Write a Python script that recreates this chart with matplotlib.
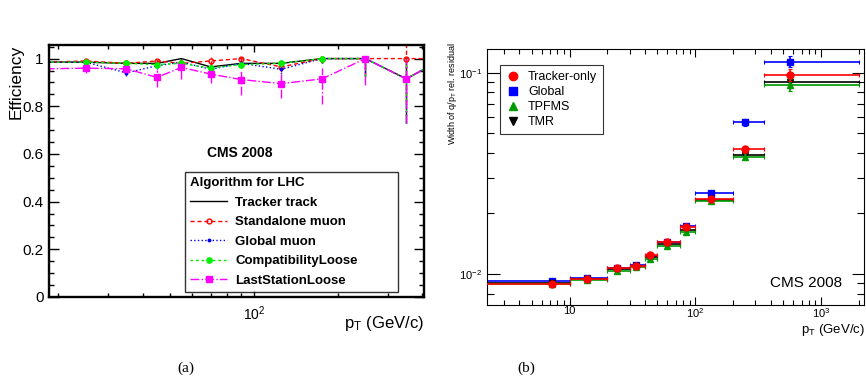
import numpy as np
import matplotlib
matplotlib.use("Agg")
import matplotlib.pyplot as plt
from matplotlib.ticker import FixedLocator, NullFormatter, FixedFormatter
from matplotlib.lines import Line2D

plt.rcParams['font.family'] = ['Liberation Sans', 'DejaVu Sans']
plt.rcParams['mathtext.fontset'] = 'custom'
plt.rcParams['mathtext.rm'] = 'Liberation Sans'
plt.rcParams['mathtext.it'] = 'Liberation Sans:italic'
plt.rcParams['mathtext.bf'] = 'Liberation Sans:bold'

# ---- (a) efficiency vs pT ----
pt_a = [18, 25, 35, 45, 55, 70, 90, 125, 175, 250, 350, 475]
eff_tracker = [0.985, 0.985, 0.98, 0.98, 1.0, 0.965, 0.98, 0.98, 1.0, 1.0, 0.915, 1.0]
eff_standalone = [0.985, 0.99, 0.98, 0.99, 0.98, 0.99, 1.0, 0.965, 1.0, 1.0, 1.0, 1.0]
eff_global = [0.985, 0.985, 0.94, 0.97, 0.985, 0.955, 0.98, 0.955, 1.0, 1.0, 0.915, 1.0]
eff_compat = [0.985, 0.985, 0.98, 0.975, 0.98, 0.96, 0.975, 0.98, 1.0, 1.0, 0.915, 1.0]
eff_last = [0.957, 0.96, 0.957, 0.921, 0.963, 0.935, 0.912, 0.895, 0.915, 1.0, 0.915, 1.0]

err_lo = [0.01, 0.01, 0.012, 0.012, 0.012, 0.015, 0.015, 0.02, 0.02, 0.075, 0.185, 0.0]
err_hi = [0.01, 0.01, 0.012, 0.012, 0.0, 0.015, 0.015, 0.015, 0.0, 0.0, 0.085, 0.0]
last_lo = [0.02, 0.02, 0.02, 0.04, 0.048, 0.037, 0.063, 0.06, 0.104, 0.11, 0.185, 0.0]
last_hi = [0.02, 0.015, 0.02, 0.033, 0.012, 0.026, 0.042, 0.045, 0.046, 0.0, 0.085, 0.0]

# ---- (b) width of q/pT residual ----
bin_edges = [2, 10, 20, 30, 40, 50, 75, 100, 200, 350, 2000]
pt_b = [7.25, 13.7, 24, 33.8, 43.6, 60, 84.3, 133, 248, 564]
w_tracker = [0.00889, 0.0094, 0.01075, 0.0110, 0.0124, 0.01437, 0.01706, 0.0235, 0.0418, 0.0974]
w_global = [0.00926, 0.00955, 0.01067, 0.0111, 0.01233, 0.01437, 0.0173, 0.0253, 0.0569, 0.1135]
w_tpfms = [0.0089, 0.0093, 0.0104, 0.01087, 0.0119, 0.01384, 0.0161, 0.0231, 0.0383, 0.0869]
w_tmr = [0.0090, 0.0094, 0.0106, 0.0110, 0.0121, 0.0141, 0.0166, 0.0233, 0.0390, 0.0902]
rel_err = [0.01, 0.01, 0.01, 0.01, 0.012, 0.012, 0.015, 0.02, 0.04, 0.065]

fig = plt.figure(figsize=(8.66, 3.81), dpi=100)

# ---------------- left panel ----------------
ax1 = fig.add_axes([0.0566, 0.2205, 0.433, 0.6614])
ax1.set_xscale('log')
ax1.set_xlim(18.5, 405)
ax1.set_ylim(0, 1.057)

series_a = [
    ('Tracker track', eff_tracker, err_lo, err_hi, 'black', '-', 'None', 'black', 0),
    ('Standalone muon', eff_standalone, err_lo, err_hi, 'red', (0, (3, 2)), 'o', 'none', 3.5),
    ('Global muon', eff_global, err_lo, err_hi, 'blue', ':', 'o', 'blue', 1.8),
    ('CompatibilityLoose', eff_compat, err_lo, err_hi, '#00ee00', (0, (2, 2)), 'o', '#00ee00', 3.8),
    ('LastStationLoose', eff_last, last_lo, last_hi, 'magenta', '-.', 's', 'magenta', 4.5),
]
leg_a = []
for name, y, lo, hi, col, ls, mk, mfc, ms in series_a:
    eb = ax1.errorbar(pt_a, y, yerr=[lo, hi], color=col, ls=ls, lw=1.0,
                      marker=mk, mfc=mfc, mec=col, ms=ms, elinewidth=1.0, capsize=0)
    for lc in eb[2]:
        lc.set_linestyle(ls)
    leg_a.append(Line2D([], [], color=col, ls=ls, lw=1.0, marker=mk, mfc=mfc,
                        mec=col, ms=ms, markevery=[1], label=name))

ax1.set_yticks([0, 0.2, 0.4, 0.6, 0.8, 1.0])
ax1.yaxis.set_major_formatter(FixedFormatter(['0', '0.2', '0.4', '0.6', '0.8', '1']))
ax1.yaxis.set_minor_locator(FixedLocator(np.arange(0, 1.06, 0.05)))
ax1.xaxis.set_major_locator(FixedLocator([100]))
ax1.xaxis.set_major_formatter(FixedFormatter([r'$10^{2}$']))
ax1.xaxis.set_minor_locator(FixedLocator([20, 30, 40, 50, 60, 70, 80, 90, 200, 300, 400]))
ax1.xaxis.set_minor_formatter(NullFormatter())
ax1.tick_params(which='both', direction='in', top=True, right=True)
ax1.tick_params(axis='y', which='major', length=7, width=1, labelsize=11, pad=4)
ax1.tick_params(axis='y', which='minor', length=3.5, width=1)
ax1.tick_params(axis='x', which='major', length=5, width=1, labelsize=10, pad=5)
ax1.tick_params(axis='x', which='minor', length=3, width=1)
for s in ax1.spines.values():
    s.set_linewidth(1.7)

fig.text(0.0185, 0.882, 'Efficiency', rotation=90, ha='center', va='top', fontsize=12.5)
fig.text(0.4896, 0.152, r'p$_{\mathrm{T}}$ (GeV/c)', ha='right', va='center', fontsize=12)
ax1.text(0.509, 0.573, 'CMS 2008', ha='center', va='center', fontsize=10,
         fontweight='bold', transform=ax1.transAxes)

leg1 = ax1.legend(handles=leg_a, loc='lower left', mode='expand',
                  bbox_to_anchor=(0.363, 0.02, 0.568, 0.49), borderaxespad=0,
                  title='Algorithm for LHC', alignment='left',
                  title_fontproperties={'weight': 'bold', 'size': 9.5},
                  prop={'weight': 'bold', 'size': 9.5}, frameon=True, fancybox=False,
                  edgecolor='black', handlelength=2.8, labelspacing=0.55,
                  handletextpad=0.6, borderpad=0.4)
leg1.get_frame().set_linewidth(1.0)

# ---------------- right panel ----------------
ax2 = fig.add_axes([0.5624, 0.1995, 0.4353, 0.6711])
ax2.set_xscale('log')
ax2.set_yscale('log')
ax2.set_xlim(2.21, 2190)
ax2.set_ylim(0.00702, 0.1306)

edges = np.array(bin_edges)
pts = np.array(pt_b)
xerr = [pts - edges[:-1], edges[1:] - pts]
series_b = [
    ('Global', w_global, 'blue', 's', 4.5, 1),
    ('TMR', w_tmr, 'black', 'v', 5, 2),
    ('TPFMS', w_tpfms, '#009900', '^', 5, 3),
    ('Tracker-only', w_tracker, 'red', 'o', 5, 4),
]
for name, w, col, mk, ms, z in series_b:
    w = np.array(w)
    ax2.errorbar(pts, w, xerr=xerr, yerr=w * np.array(rel_err), fmt=mk,
                 color=col, ms=ms, elinewidth=1.2, capsize=1.5, capthick=0.8,
                 zorder=z, label=name)

ax2.xaxis.set_major_locator(FixedLocator([10, 100, 1000]))
ax2.xaxis.set_major_formatter(FixedFormatter(['10', r'$10^{2}$', r'$10^{3}$']))
xminor = [m * d for d in (1, 10, 100, 1000) for m in range(2, 10)]
ax2.xaxis.set_minor_locator(FixedLocator(xminor))
ax2.xaxis.set_minor_formatter(NullFormatter())
ax2.yaxis.set_major_locator(FixedLocator([0.01, 0.1]))
ax2.yaxis.set_major_formatter(FixedFormatter([r'$10^{-2}$', r'$10^{-1}$']))
yminor = [m * d for d in (0.001, 0.01) for m in range(2, 10)]
ax2.yaxis.set_minor_locator(FixedLocator(yminor))
ax2.yaxis.set_minor_formatter(NullFormatter())
ax2.tick_params(which='both', direction='in', top=True, right=True, width=0.8)
ax2.tick_params(axis='y', which='major', length=9, labelsize=8)
ax2.tick_params(axis='y', which='minor', length=5)
ax2.tick_params(axis='x', which='major', length=6, labelsize=8, pad=1)
ax2.tick_params(axis='x', which='minor', length=3.5)
for s in ax2.spines.values():
    s.set_linewidth(0.8)

fig.text(0.523, 0.888, r'Width of q/p$_{\mathrm{T}}$ rel. residual', rotation=90,
         ha='center', va='top', fontsize=6.5)
fig.text(0.9985, 0.133, r'p$_{\mathrm{T}}$ (GeV/c)', ha='right', va='center', fontsize=9.5)
ax2.text(0.942, 0.086, 'CMS 2008', ha='right', va='center', fontsize=11,
         transform=ax2.transAxes)

order = ['Tracker-only', 'Global', 'TPFMS', 'TMR']
leg_handles = [Line2D([], [], ls='none', marker=m, color=c, ms=6)
               for c, m in [('red', 'o'), ('blue', 's'), ('#009900', '^'), ('black', 'v')]]
leg2 = ax2.legend(leg_handles, order, loc='upper left', bbox_to_anchor=(0.0345, 0.9375),
                  borderaxespad=0, fontsize=9, frameon=True, fancybox=False,
                  edgecolor='black', handlelength=1.2, labelspacing=0.25,
                  handletextpad=0.6, borderpad=0.45)
leg2.get_frame().set_linewidth(0.8)

# captions
fig.text(0.2144, 0.034, '(a)', ha='center', va='center', fontsize=11, family='Liberation Serif')
fig.text(0.6074, 0.034, '(b)', ha='center', va='center', fontsize=11, family='Liberation Serif')

fig.savefig('out.png', dpi=100)
